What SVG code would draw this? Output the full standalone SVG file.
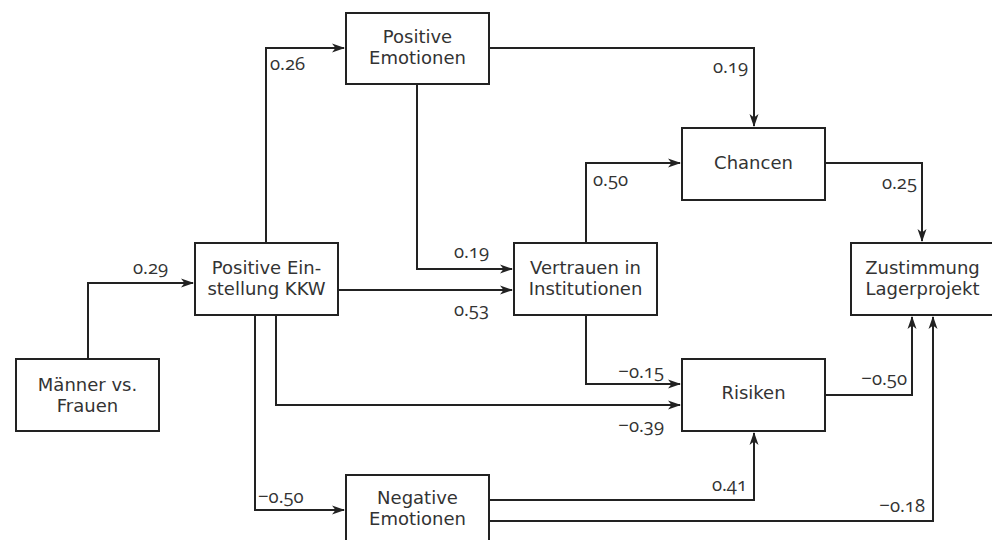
<svg xmlns="http://www.w3.org/2000/svg" width="992" height="540" viewBox="0 0 992 540">
<style>
.box{fill:#fff;stroke:#222;stroke-width:2}
.t{font-family:"DejaVu Sans","Open Sans",sans-serif;font-size:18px;fill:#333;text-anchor:middle}
.c{fill:none;stroke:#222;stroke-width:2}
.l{font-family:"Open Sans","Liberation Sans",sans-serif;font-size:18.5px;fill:#333;font-variant-numeric:oldstyle-nums;font-feature-settings:"onum"}
.r{text-anchor:end}
</style>
<defs>
<marker id="a" markerUnits="userSpaceOnUse" markerWidth="14" markerHeight="10" refX="12" refY="5" orient="auto">
<path d="M0,0.5 L13,5 L0,9.5 L3.5,5 z" fill="#222"/>
</marker>
</defs>
<rect width="992" height="540" fill="#fff"/>
<g id="connectors">
<path class="c" d="M88,359 V283 H193" marker-end="url(#a)"/>
<path class="c" d="M266,243 V48 H344" marker-end="url(#a)"/>
<path class="c" d="M489,48 H754 V126" marker-end="url(#a)"/>
<path class="c" d="M417,84 V269 H512" marker-end="url(#a)"/>
<path class="c" d="M338,290 H512" marker-end="url(#a)"/>
<path class="c" d="M586,243 V163 H680" marker-end="url(#a)"/>
<path class="c" d="M826,163 H922 V241" marker-end="url(#a)"/>
<path class="c" d="M586,315 V384 H680" marker-end="url(#a)"/>
<path class="c" d="M276,315 V405 H680" marker-end="url(#a)"/>
<path class="c" d="M255,315 V510 H344" marker-end="url(#a)"/>
<path class="c" d="M826,395 H912 V317" marker-end="url(#a)"/>
<path class="c" d="M489,500 H754 V433" marker-end="url(#a)"/>
<path class="c" d="M489,521 H933 V317" marker-end="url(#a)"/>
<text class="l" x="133" y="274">0.29</text>
<text class="l" x="270" y="70">0.26</text>
<text class="l r" x="748" y="73">0.19</text>
<text class="l r" x="489" y="258">0.19</text>
<text class="l r" x="489" y="316">0.53</text>
<text class="l" x="593" y="186">0.50</text>
<text class="l r" x="917" y="189">0.25</text>
<text class="l r" x="664" y="378">−0.15</text>
<text class="l r" x="664" y="432">−0.39</text>
<text class="l" x="258" y="503">−0.50</text>
<text class="l r" x="907" y="385">−0.50</text>
<text class="l r" x="747" y="491">0.41</text>
<text class="l r" x="925" y="512">−0.18</text>
</g>
<g id="pos-emotionen"><rect class="box" x="346" y="13" width="143" height="71"/><text class="t" x="417.5" y="43">Positive<tspan x="417.5" dy="21">Emotionen</tspan></text></g>
<g id="pos-einstellung"><rect class="box" x="195" y="243" width="143" height="72"/><text class="t" x="266.5" y="274">Positive Ein-<tspan x="266.5" dy="21">stellung KKW</tspan></text></g>
<g id="maenner-frauen"><rect class="box" x="16" y="359" width="143" height="72"/><text class="t" x="87.5" y="391">Männer vs.<tspan x="87.5" dy="21">Frauen</tspan></text></g>
<g id="neg-emotionen"><rect class="box" x="346" y="475" width="143" height="72"/><text class="t" x="417.5" y="504">Negative<tspan x="417.5" dy="21">Emotionen</tspan></text></g>
<g id="chancen"><rect class="box" x="682" y="128" width="143" height="72"/><text class="t" x="753.5" y="169">Chancen</text></g>
<g id="vertrauen"><rect class="box" x="514" y="243" width="143" height="72"/><text class="t" x="585.5" y="274">Vertrauen in<tspan x="585.5" dy="21">Institutionen</tspan></text></g>
<g id="zustimmung"><rect class="box" x="851" y="243" width="143" height="72"/><text class="t" x="922.5" y="274">Zustimmung<tspan x="922.5" dy="21">Lagerprojekt</tspan></text></g>
<g id="risiken"><rect class="box" x="682" y="359" width="143" height="72"/><text class="t" x="753.5" y="399">Risiken</text></g>
</svg>
